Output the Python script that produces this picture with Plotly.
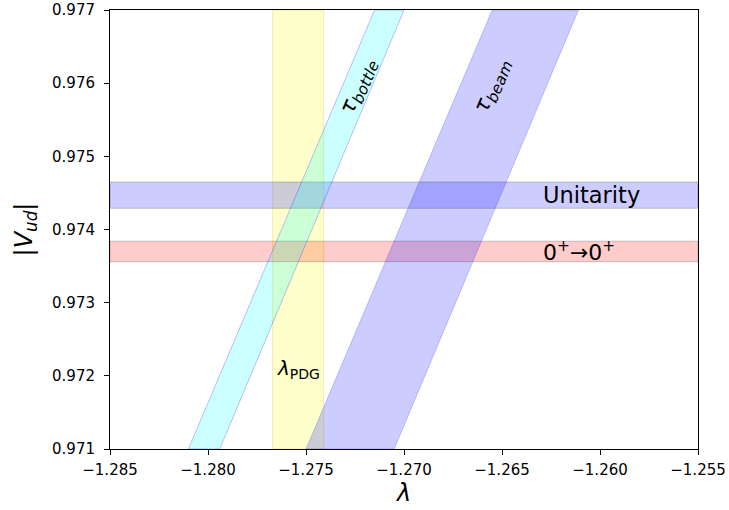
import plotly.graph_objects as go

# Axis limits
lam_range = [-1.285, -1.255]
vud_range = [0.971, 0.977]

# Axial coupling from PDG (centre, 1-sigma)
lam_pdg = -1.2754
lam_pdg_err = 0.0013

# |Vud| from CKM unitarity and from superallowed 0+ -> 0+ decays (centre, 1-sigma)
vud_unitarity = 0.97447
vud_unitarity_err = 0.00018
vud_superallowed = 0.97370
vud_superallowed_err = 0.00014

# Neutron-lifetime bands: lambda of the band edges at the bottom and top of the |Vud| range
vud_ends = [0.971, 0.977]
bottle_lo = [-1.2810, -1.2715]
bottle_hi = [-1.2794, -1.2700]
beam_lo = [-1.2750, -1.2655]
beam_hi = [-1.2705, -1.2611]

FONT = "DejaVu Sans"

fig = go.Figure()


def band(xs, ys, fill, edge):
    fig.add_trace(go.Scatter(
        x=xs, y=ys, mode="lines", fill="toself",
        fillcolor=fill, line=dict(color=edge, width=1),
        hoverinfo="skip", showlegend=False,
    ))


def hband(center, err, fill, edge):
    lo, hi = center - err, center + err
    band([lam_range[0], lam_range[1], lam_range[1], lam_range[0], lam_range[0]],
         [lo, lo, hi, hi, lo], fill, edge)


def slanted(lo, hi, fill, edge):
    xs = lo + hi[::-1] + lo[:1]
    ys = vud_ends + vud_ends[::-1] + vud_ends[:1]
    band(xs, ys, fill, edge)


# lambda_PDG vertical band
l0, l1 = lam_pdg - lam_pdg_err, lam_pdg + lam_pdg_err
band([l0, l1, l1, l0, l0], [vud_range[0], vud_range[0], vud_range[1], vud_range[1], vud_range[0]],
     "rgba(255,255,0,0.2)", "rgba(230,170,0,0.25)")

# Horizontal |Vud| bands
hband(vud_unitarity, vud_unitarity_err, "rgba(0,0,255,0.2)", "rgba(0,0,0,0.2)")
hband(vud_superallowed, vud_superallowed_err, "rgba(255,0,0,0.2)", "rgba(0,0,0,0.2)")

# Lifetime bands
slanted(bottle_lo, bottle_hi, "rgba(0,255,255,0.2)", "rgba(0,0,255,0.25)")
slanted(beam_lo, beam_hi, "rgba(0,0,255,0.2)", "rgba(0,0,255,0.2)")

# Labels
labels = [
    dict(x=-1.2723, y=0.97595, text="<i>τ</i><sub><i>bottle</i></sub>", textangle=-67,
         xanchor="center", size=22),
    dict(x=-1.2655, y=0.97596, text="<i>τ</i><sub><i>beam</i></sub>", textangle=-67,
         xanchor="center", size=22),
    dict(x=-1.2630, y=vud_unitarity, text="Unitarity", textangle=0,
         xanchor="left", size=22.5),
    dict(x=-1.2630, y=vud_superallowed, text="0<sup>+</sup>→0<sup>+</sup>", textangle=0,
         xanchor="left", size=22),
    dict(x=lam_pdg, y=0.9721, text="<i>λ</i><sub>PDG</sub>", textangle=0,
         xanchor="center", size=20),
]
for lb in labels:
    fig.add_annotation(
        x=lb["x"], y=lb["y"], text=lb["text"], textangle=lb["textangle"],
        xanchor=lb["xanchor"], yanchor="middle", showarrow=False,
        font=dict(family=FONT, size=lb["size"], color="black"),
    )

axis_common = dict(
    showgrid=False, zeroline=False, automargin=False,
    showline=True, linecolor="black", linewidth=1, mirror=True,
    ticks="outside", ticklen=5, tickwidth=1, tickcolor="black",
    tickfont=dict(family=FONT, size=15, color="black"),
    tickformat=".3f",
)

fig.update_xaxes(
    range=lam_range, dtick=0.005, tick0=-1.285, ticklabelstandoff=2,
    title=dict(text="<i>λ</i>", font=dict(family=FONT, size=24, color="black"), standoff=4),
    **axis_common,
)
fig.update_yaxes(
    range=vud_range, dtick=0.001, tick0=0.971, ticklabelstandoff=6,
    title=dict(text="|<i>V</i><sub><i>ud</i></sub>|", font=dict(family=FONT, size=24, color="black"),
               standoff=12),
    **axis_common,
)

fig.update_layout(
    width=729, height=510,
    margin=dict(l=110, r=31, t=10, b=61),
    plot_bgcolor="white", paper_bgcolor="white",
    font=dict(family=FONT, color="black"),
)

fig.write_html("out.html")
